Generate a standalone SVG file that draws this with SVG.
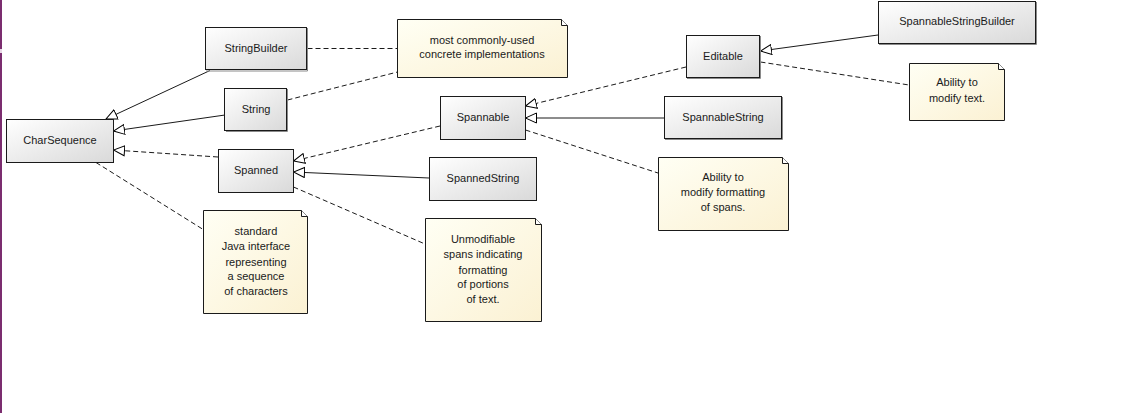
<svg xmlns="http://www.w3.org/2000/svg" width="1121" height="413" viewBox="0 0 1121 413">
<defs>
<linearGradient id="gBox" x1="0" y1="0" x2="1" y2="1">
<stop offset="0" stop-color="#ffffff"/>
<stop offset="1" stop-color="#d9d9d9"/>
</linearGradient>
<linearGradient id="gNote" x1="0" y1="0" x2="1" y2="1">
<stop offset="0" stop-color="#fffff4"/>
<stop offset="1" stop-color="#fbf1d3"/>
</linearGradient>
<marker id="tri" viewBox="0 0 12 12" refX="11.5" refY="6" markerWidth="12" markerHeight="12" markerUnits="userSpaceOnUse" orient="auto">
<path d="M0.5,1 L11.5,6 L0.5,11 Z" fill="#ffffff" stroke="#000000" stroke-width="1"/>
</marker>
</defs>
<style>
.box{fill:url(#gBox);stroke:#1a1a1a;stroke-width:1}
.shadow{fill:none;stroke:#8a8a8a;stroke-width:1}
.note{fill:url(#gNote);stroke:#1a1a1a;stroke-width:1}
.ear{fill:#ffffff;stroke:#1a1a1a;stroke-width:1}
text{font-family:"Liberation Sans",Arial,sans-serif;font-size:11px;fill:#1a1a1a;text-anchor:middle}
.solid{fill:none;stroke:#1a1a1a;stroke-width:1}
.dash{fill:none;stroke:#1a1a1a;stroke-width:1;stroke-dasharray:5,3}
.gen{marker-end:url(#tri)}
</style>
<rect x="0" y="0" width="1121" height="413" fill="#ffffff"/>
<rect x="0" y="0" width="2" height="413" fill="#7b2d6f"/>
<rect x="0" y="49" width="2" height="4" fill="#e8d8e6"/>

<g id="connectors">
<line class="solid gen" x1="210" y1="70.5" x2="106" y2="119"/>
<line class="solid gen" x1="225" y1="115" x2="113.5" y2="131"/>
<line class="dash gen" x1="218" y1="157" x2="113.5" y2="150"/>
<line class="dash" x1="96" y1="162.5" x2="204" y2="230"/>
<line class="dash" x1="307.5" y1="48.5" x2="397.5" y2="48.5"/>
<line class="dash" x1="287.5" y1="100" x2="397.5" y2="72"/>
<line class="dash gen" x1="440" y1="126" x2="293.5" y2="161"/>
<line class="solid gen" x1="429" y1="178" x2="293.5" y2="172"/>
<line class="dash" x1="293.5" y1="187" x2="425" y2="244"/>
<line class="dash gen" x1="686" y1="67" x2="525.5" y2="106"/>
<line class="solid gen" x1="664" y1="118" x2="525.5" y2="118"/>
<line class="dash" x1="525.5" y1="130" x2="658" y2="173"/>
<line class="solid gen" x1="878" y1="35" x2="760.5" y2="51"/>
<line class="dash" x1="760.5" y1="62" x2="909" y2="85"/>
</g>

<g id="CharSequence">
<rect class="box" x="6.5" y="119.5" width="107" height="43"/>
<text x="60" y="144">CharSequence</text>
</g>
<g id="StringBuilder">
<path class="shadow" d="M307.5,28 V71 H206"/>
<rect class="box" x="205.5" y="27.5" width="101" height="42"/>
<text x="256" y="52">StringBuilder</text>
</g>
<g id="String">
<path class="shadow" d="M287.5,89 V131.5 H226"/>
<rect class="box" x="224.5" y="88.5" width="62" height="42"/>
<text x="256" y="113">String</text>
</g>
<g id="Spanned">
<rect class="box" x="218.5" y="149.5" width="75" height="43"/>
<text x="256" y="174">Spanned</text>
</g>
<g id="Spannable">
<rect class="box" x="440.5" y="96.5" width="85" height="43"/>
<text x="483" y="121">Spannable</text>
</g>
<g id="SpannedString">
<rect class="box" x="429.5" y="157.5" width="107" height="43"/>
<text x="483" y="182">SpannedString</text>
</g>
<g id="SpannableString">
<path class="shadow" d="M782.5,97 V139.5 H665"/>
<rect class="box" x="664.5" y="96.5" width="117" height="42"/>
<text x="723" y="121">SpannableString</text>
</g>
<g id="Editable">
<path class="shadow" d="M760.5,36 V78.5 H687"/>
<rect class="box" x="686.5" y="35.5" width="73" height="42"/>
<text x="723" y="60">Editable</text>
</g>
<g id="SpannableStringBuilder">
<path class="shadow" d="M1036.5,2 V44.5 H879"/>
<rect class="box" x="878.5" y="1.5" width="157" height="42"/>
<text x="957" y="25">SpannableStringBuilder</text>
</g>

<g id="note-implementations">
<path class="note" d="M397.5,19.5 H561.5 L567.5,25.5 V77.5 H397.5 Z"/>
<path class="ear" d="M561.5,19.5 V25.5 H567.5"/>
<text x="482" y="44">most commonly-used</text>
<text x="482" y="58">concrete implementations</text>
</g>
<g id="note-charsequence">
<path class="note" d="M203.5,210.5 H301.5 L307.5,216.5 V313.5 H203.5 Z"/>
<path class="ear" d="M301.5,210.5 V216.5 H307.5"/>
<text x="256" y="235">standard</text>
<text x="256" y="250">Java interface</text>
<text x="256" y="266">representing</text>
<text x="256" y="280">a sequence</text>
<text x="256" y="295">of characters</text>
</g>
<g id="note-spanned">
<path class="note" d="M425.5,218.5 H535.5 L541.5,224.5 V321.5 H425.5 Z"/>
<path class="ear" d="M535.5,218.5 V224.5 H541.5"/>
<text x="483" y="243">Unmodifiable</text>
<text x="483" y="258">spans indicating</text>
<text x="483" y="274">formatting</text>
<text x="483" y="288">of portions</text>
<text x="483" y="303">of text.</text>
</g>
<g id="note-spannable">
<path class="note" d="M658.5,157.5 H782.5 L788.5,163.5 V230.5 H658.5 Z"/>
<path class="ear" d="M782.5,157.5 V163.5 H788.5"/>
<text x="723" y="181">Ability to</text>
<text x="723" y="196">modify formatting</text>
<text x="723" y="211">of spans.</text>
</g>
<g id="note-editable">
<path class="note" d="M909.5,63.5 H998.5 L1004.5,69.5 V120.5 H909.5 Z"/>
<path class="ear" d="M998.5,63.5 V69.5 H1004.5"/>
<text x="957" y="86">Ability to</text>
<text x="957" y="102">modify text.</text>
</g>
</svg>
